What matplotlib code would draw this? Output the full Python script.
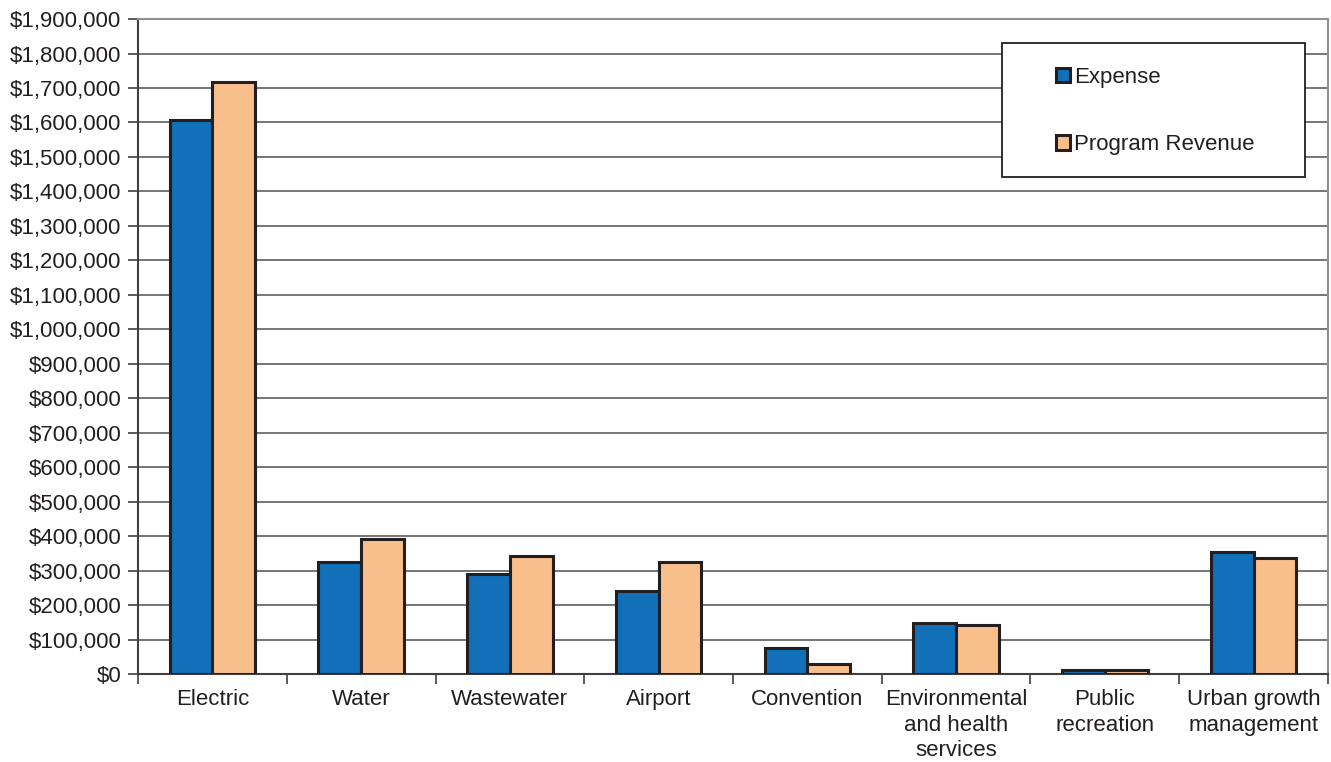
import matplotlib.pyplot as plt
import numpy as np
from matplotlib.patches import Rectangle
from matplotlib.ticker import FuncFormatter, MultipleLocator

categories = ['Electric', 'Water', 'Wastewater', 'Airport', 'Convention',
              'Environmental\nand health\nservices', 'Public\nrecreation',
              'Urban growth\nmanagement']
expense = [1608000, 325000, 290000, 241000, 75000, 148000, 13000, 354000]
revenue = [1716000, 392000, 342000, 325000, 29000, 142000, 12000, 337000]

plt.rcParams['font.family'] = ['Liberation Sans', 'DejaVu Sans']
txt = '#231f20'
fs = 16

fig = plt.figure(figsize=(13.31, 7.62), dpi=100)
ax = fig.add_axes([0.1037, 0.1155, 0.8940, 0.8595])

x = np.arange(len(categories))
w = 0.288
ax.bar(x - w / 2, expense, w, color='#1170b8', edgecolor=txt, linewidth=2.2,
       label='Expense', zorder=3)
ax.bar(x + w / 2, revenue, w, color='#f8bf8c', edgecolor=txt, linewidth=2.2,
       label='Program Revenue', zorder=3)

ax.set_xlim(-0.5, len(categories) - 0.5)
ax.set_ylim(0, 1900000)
ax.yaxis.set_major_locator(MultipleLocator(100000))
ax.yaxis.set_major_formatter(FuncFormatter(lambda v, p: f'${v:,.0f}'))
ax.grid(axis='y', color='#505050', linewidth=1.1, zorder=0)

ax.set_xticks(x)
ax.set_xticklabels(categories, fontsize=fs, color=txt, linespacing=1.27)
ax.set_xticks(np.arange(-0.5, len(categories)), minor=True)
ax.tick_params(axis='x', which='major', length=0, pad=11)
ax.tick_params(axis='x', which='minor', length=7, width=1.2, color='#404040')
ax.tick_params(axis='y', length=7, width=1.2, color='#404040',
               labelsize=fs, labelcolor=txt, pad=5)

for s in ['left', 'bottom']:
    ax.spines[s].set_color('#404040')
    ax.spines[s].set_linewidth(1.5)
for s in ['top', 'right']:
    ax.spines[s].set_color('#909090')
    ax.spines[s].set_linewidth(1.5)

# legend frame drawn separately to match the wide box
ax.add_patch(Rectangle((0.726, 0.759), 0.255, 0.204, transform=ax.transAxes,
                       facecolor='white', edgecolor=txt, linewidth=1.3,
                       zorder=4))
leg = ax.legend(loc='upper left', bbox_to_anchor=(0.7715, 0.927),
                frameon=False, fontsize=fs, handlelength=0.63,
                handleheight=0.63, handletextpad=0.2, labelspacing=2.08,
                borderpad=0, borderaxespad=0)
leg.set_zorder(5)
for t in leg.get_texts():
    t.set_color(txt)

fig.savefig('out.png', dpi=100)
